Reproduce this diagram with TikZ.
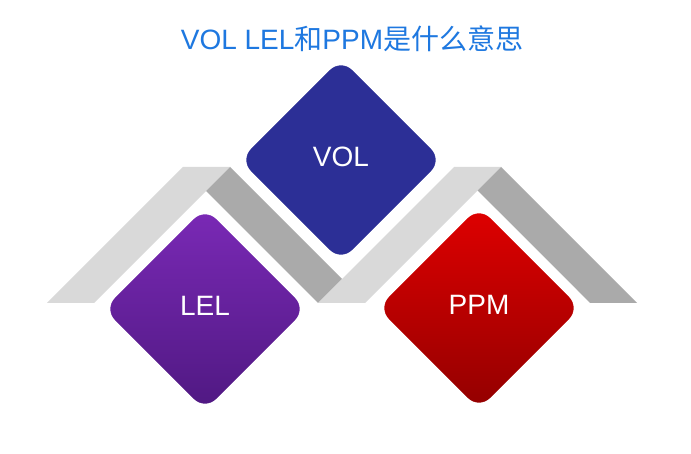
\documentclass[tikz,border=0pt]{standalone}
\usepackage{fontspec}
\setmainfont{Liberation Sans}
\newfontfamily\cjk{Noto Sans CJK SC}
\usetikzlibrary{shapes.geometric}
\definecolor{rooflight}{HTML}{D9D9D9}
\definecolor{roofdark}{HTML}{AAAAAA}
\definecolor{titleblue}{HTML}{1E78E0}
\definecolor{volblue}{HTML}{2C2F96}
\definecolor{leltop}{HTML}{7C2AB8}
\definecolor{lelmid}{HTML}{6C22AA}
\definecolor{lelbot}{HTML}{4E1880}
\definecolor{ppmtop}{HTML}{E20000}
\definecolor{ppmmid}{HTML}{CC0000}
\definecolor{ppmbot}{HTML}{900000}

\begin{document}
\begin{tikzpicture}[x=1pt, y=-1pt,
    roofl/.style={fill=rooflight},
    roofd/.style={fill=roofdark},
    tile/.style={diamond, aspect=1, inner sep=0pt, minimum width=221pt, minimum height=221pt,
        rounded corners=21pt, draw=white, line width=10pt, text=white, text depth=7pt,
        font=\fontsize{28}{32}\selectfont}]
    \fill[white] (0,0) rectangle (691,454);
    \useasboundingbox (0,0) rectangle (691,454);

    \node[anchor=base, text=titleblue, font=\fontsize{28}{32}\selectfont] (title) at (352,50)
        {VOL LEL{\cjk 和}PPM{\cjk 是什么意思}};

    \fill[roofl] (47,303) -- (183,167) -- (230,167) -- (94,303) -- cycle;
    \fill[roofd] (206,191) -- (230,167) -- (342,279) -- (318,303) -- cycle;
    \fill[roofl] (318,303) -- (454,167) -- (501,167) -- (365,303) -- cycle;
    \fill[roofd] (477.5,190.5) -- (501,167) -- (637,303) -- (590,303) -- cycle;

    \node[tile, fill=volblue] (vol) at (341,160) {VOL};
    \node[tile, top color=leltop, middle color=lelmid, bottom color=lelbot] (lel) at (205,309) {LEL};
    \node[tile, top color=ppmtop, middle color=ppmmid, bottom color=ppmbot] (ppm) at (479,308) {PPM};
\end{tikzpicture}
\end{document}
